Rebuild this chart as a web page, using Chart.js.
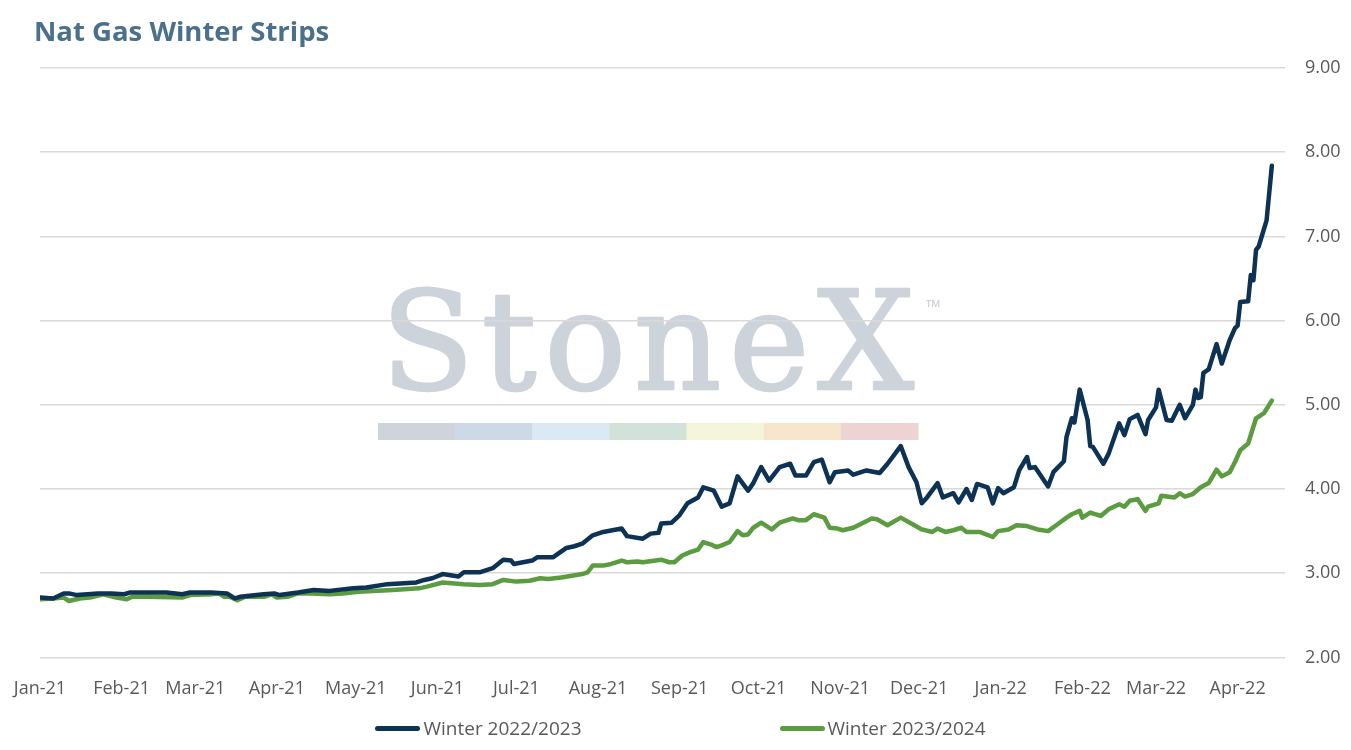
<!DOCTYPE html>
<html>
<head>
<meta charset="utf-8">
<script src="https://cdn.jsdelivr.net/npm/chart.js@4.4.1/dist/chart.umd.min.js"></script>
<style>
  html, body { margin: 0; padding: 0; background: #fff; overflow: hidden; }
  #wrap { position: relative; width: 1351px; height: 750px; }
  #legend {
    position: absolute; left: 5px; top: 715px; width: 1351px; height: 26px;
    display: flex; justify-content: center; align-items: center; gap: 198px;
    font-family: 'Open Sans', sans-serif; font-size: 19px; color: #595959;
  }
  .item { display: flex; align-items: center; white-space: nowrap; }
  .swatch { width: 45px; height: 5px; border-radius: 3px; margin-right: 3px; }
</style>
</head>
<body>
<div id="wrap">
  <canvas id="chart"></canvas>
  <div id="legend"></div>
</div>
<script>
// month ticks (days since 1 Jan 2021)
const monthDays = [0, 31, 59, 90, 120, 151, 181, 212, 243, 273, 304, 334, 365, 396, 424, 455];
const monthLabels = ['Jan-21', 'Feb-21', 'Mar-21', 'Apr-21', 'May-21', 'Jun-21', 'Jul-21', 'Aug-21',
  'Sep-21', 'Oct-21', 'Nov-21', 'Dec-21', 'Jan-22', 'Feb-22', 'Mar-22', 'Apr-22'];

const seriesNames = ['Winter 2022/2023', 'Winter 2023/2024'];

const winter2223Days = [0, 5, 9, 11, 14, 22, 27, 32, 34, 41, 48, 54, 57, 65, 71, 74, 76, 85, 89, 91,
  98, 104, 110, 119, 124, 132, 143, 146, 149, 153, 159, 161, 167, 172, 176, 179, 180, 187, 189, 195,
  200, 203, 206, 210, 214, 221, 223, 229, 232, 235, 236, 240, 243, 246, 250, 252, 256, 259, 262, 265,
  269, 271, 274, 277, 281, 285, 287, 291, 294, 297, 300, 302, 307, 309, 314, 319, 322, 327, 330, 333,
  335, 337, 341, 343, 347, 349, 352, 354, 356, 360, 362, 364, 366, 370, 372, 375, 376, 378, 383, 385,
  389, 390, 392, 393, 395, 398, 399, 400, 404, 406, 410, 412, 414, 417, 420, 421, 424, 425, 428, 430,
  433, 435, 438, 439, 440, 441, 442, 444, 447, 449, 452, 454, 455, 456, 459, 460, 461, 462, 463, 466, 468];
const winter2223 = [2.71, 2.70, 2.76, 2.76, 2.74, 2.76, 2.76, 2.75, 2.77, 2.77, 2.77, 2.75, 2.77, 2.77, 2.76, 2.70, 2.72, 2.75, 2.76, 2.74,
  2.77, 2.80, 2.79, 2.82, 2.83, 2.87, 2.89, 2.92, 2.94, 2.99, 2.96, 3.01, 3.01, 3.06, 3.16, 3.15, 3.11, 3.15, 3.19, 3.19,
  3.30, 3.32, 3.35, 3.45, 3.49, 3.53, 3.44, 3.41, 3.47, 3.48, 3.59, 3.60, 3.69, 3.83, 3.90, 4.02, 3.98, 3.79, 3.83, 4.15,
  3.98, 4.07, 4.26, 4.10, 4.26, 4.30, 4.16, 4.16, 4.32, 4.35, 4.08, 4.20, 4.22, 4.17, 4.22, 4.19, 4.30, 4.51, 4.26, 4.08,
  3.83, 3.90, 4.07, 3.90, 3.95, 3.84, 4.00, 3.87, 4.06, 4.02, 3.83, 4.01, 3.95, 4.02, 4.22, 4.38, 4.25, 4.26, 4.03, 4.20,
  4.33, 4.62, 4.84, 4.79, 5.18, 4.82, 4.51, 4.50, 4.30, 4.42, 4.78, 4.64, 4.83, 4.88, 4.65, 4.82, 4.97, 5.18, 4.82, 4.81,
  5.00, 4.84, 5.00, 5.18, 5.08, 5.09, 5.38, 5.42, 5.72, 5.49, 5.77, 5.91, 5.94, 6.22, 6.23, 6.54, 6.48, 6.84, 6.88, 7.19, 7.84];

const winter2324Days = [0, 5, 9, 11, 15, 19, 24, 29, 33, 35, 41, 54, 57, 65, 68, 70, 72, 75, 78, 85,
  88, 90, 94, 98, 103, 110, 115, 121, 134, 144, 147, 153, 161, 167, 172, 176, 181, 186, 190, 193,
  198, 202, 206, 208, 210, 214, 217, 221, 223, 227, 229, 236, 239, 241, 244, 247, 250, 252, 255, 257,
  259, 262, 265, 267, 269, 271, 274, 278, 281, 286, 288, 291, 294, 298, 300, 303, 305, 309, 316, 318,
  322, 327, 331, 335, 339, 341, 344, 347, 350, 352, 357, 362, 364, 368, 371, 375, 379, 383, 387, 390,
  392, 395, 396, 399, 403, 406, 410, 412, 414, 417, 420, 421, 425, 426, 431, 433, 435, 438, 441, 444,
  447, 449, 452, 454, 456, 459, 462, 465, 468];
const winter2324 = [2.69, 2.70, 2.71, 2.67, 2.70, 2.71, 2.75, 2.71, 2.69, 2.72, 2.72, 2.71, 2.74, 2.75, 2.76, 2.72, 2.72, 2.68, 2.72, 2.72,
  2.75, 2.71, 2.72, 2.76, 2.76, 2.75, 2.76, 2.78, 2.80, 2.82, 2.84, 2.89, 2.87, 2.86, 2.87, 2.92, 2.90, 2.91, 2.94, 2.93,
  2.95, 2.97, 2.99, 3.01, 3.09, 3.09, 3.11, 3.15, 3.13, 3.14, 3.13, 3.16, 3.13, 3.13, 3.21, 3.25, 3.28, 3.37, 3.34, 3.31,
  3.33, 3.37, 3.50, 3.45, 3.46, 3.54, 3.60, 3.52, 3.60, 3.65, 3.63, 3.63, 3.70, 3.66, 3.54, 3.53, 3.51, 3.54, 3.65, 3.64,
  3.57, 3.66, 3.59, 3.52, 3.49, 3.53, 3.49, 3.51, 3.54, 3.49, 3.49, 3.43, 3.50, 3.52, 3.57, 3.56, 3.52, 3.50, 3.59, 3.66,
  3.70, 3.74, 3.66, 3.72, 3.68, 3.76, 3.82, 3.79, 3.86, 3.88, 3.74, 3.79, 3.83, 3.92, 3.90, 3.95, 3.91, 3.94, 4.02, 4.07,
  4.23, 4.15, 4.20, 4.32, 4.46, 4.54, 4.84, 4.90, 5.05];

const seriesColors = ['#0d3253', '#5b9c40'];

function toPoints(days, values) {
  return days.map((d, i) => ({ x: d, y: values[i] }));
}

// faded StoneX mark behind the grid
const watermark = {
  id: 'watermark',
  beforeDraw(chart) {
    const ctx = chart.ctx;
    ctx.save();
    ctx.fillStyle = '#cdd3db';
    ctx.strokeStyle = '#cdd3db';
    ctx.lineWidth = 2.5;
    ctx.lineJoin = 'round';
    ctx.font = '136px "DejaVu Serif", serif';
    ctx.textBaseline = 'alphabetic';
    const word = 'StoneX';
    const left = 381, right = 914;
    const plain = ctx.measureText(word).width;
    const gap = (right - left - plain) / (word.length - 1);
    let x = left;
    for (const ch of word) {
      ctx.fillText(ch, x, 389);
      ctx.strokeText(ch, x, 389);
      x += ctx.measureText(ch).width + gap;
    }
    ctx.font = '20px "Open Sans", sans-serif';
    ctx.fillText('™', 926, 314);
    const bands = ['#cfd4dc', '#cdd9e6', '#dbe9f4', '#d3e2d9', '#f5f5dc', '#f7e5cc', '#eed3d4'];
    const w = (918 - 378) / bands.length;
    bands.forEach((c, i) => {
      ctx.fillStyle = c;
      ctx.fillRect(378 + i * w, 423, w + 0.5, 17);
    });
    ctx.restore();
  }
};

const htmlLegend = {
  id: 'htmlLegend',
  afterUpdate(chart) {
    const box = document.getElementById('legend');
    box.innerHTML = '';
    chart.data.datasets.forEach(ds => {
      const item = document.createElement('div');
      item.className = 'item';
      const swatch = document.createElement('span');
      swatch.className = 'swatch';
      swatch.style.background = ds.borderColor;
      const text = document.createElement('span');
      text.textContent = ds.label;
      item.appendChild(swatch);
      item.appendChild(text);
      box.appendChild(item);
    });
  }
};

Chart.defaults.font.family = "'Open Sans', sans-serif";
Chart.defaults.color = '#595959';

const ctx = document.getElementById('chart').getContext('2d');
new Chart(ctx, {
  type: 'line',
  data: {
    datasets: [
      {
        label: seriesNames[0],
        data: toPoints(winter2223Days, winter2223),
        borderColor: seriesColors[0],
        backgroundColor: seriesColors[0],
      },
      {
        label: seriesNames[1],
        data: toPoints(winter2324Days, winter2324),
        borderColor: seriesColors[1],
        backgroundColor: seriesColors[1],
      },
    ],
  },
  options: {
    responsive: true,
    maintainAspectRatio: false,
    animation: false,
    layout: { padding: { left: 34, right: 11, top: 0, bottom: 37 } },
    elements: {
      point: { radius: 0 },
      line: { borderWidth: 4.5, tension: 0, borderJoinStyle: 'round', borderCapStyle: 'round' },
    },
    plugins: {
      legend: { display: false },
      tooltip: { enabled: false },
      title: {
        display: true,
        text: 'Nat Gas Winter Strips',
        align: 'start',
        color: '#4a708b',
        font: { size: 27.5, weight: 'bold' },
        padding: { top: 17, bottom: 18 },
      },
    },
    scales: {
      x: {
        type: 'linear',
        min: 0,
        max: 473,
        afterBuildTicks: scale => {
          scale.ticks = monthDays.map(v => ({ value: v }));
        },
        afterFit: scale => {
          // plot starts a little right of the title
          scale.paddingLeft = 40;
        },
        ticks: {
          autoSkip: false,
          maxRotation: 0,
          padding: 13,
          font: { size: 18 },
          callback: value => monthLabels[monthDays.indexOf(value)],
        },
        grid: { display: false },
        border: { display: false },
      },
      y: {
        position: 'right',
        min: 2,
        max: 9,
        afterFit: scale => {
          scale.width = 55;
        },
        ticks: {
          stepSize: 1,
          padding: 20,
          font: { size: 18 },
          callback: value => value.toFixed(2),
        },
        grid: { color: '#d9d9d9', lineWidth: 1.5, drawTicks: false },
        border: { display: false },
      },
    },
  },
  plugins: [watermark, htmlLegend],
});
</script>
</body>
</html>
